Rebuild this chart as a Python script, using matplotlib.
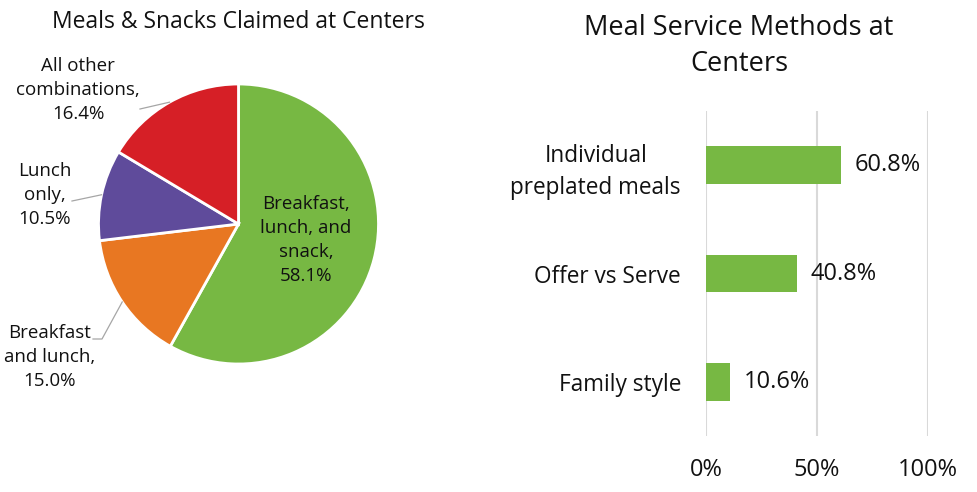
import matplotlib
matplotlib.use("Agg")
import matplotlib.pyplot as plt
import numpy as np

plt.rcParams['font.family'] = ['Open Sans', 'DejaVu Sans']

# ---- data ----
pie_labels = ["Breakfast,\nlunch, and\nsnack,", "Breakfast\nand lunch,", "Lunch\nonly,", "All other\ncombinations,"]
pie_values = [58.1, 15.0, 10.5, 16.4]
pie_colors = ["#77B843", "#E87722", "#5F4B9B", "#D61F26"]

bar_categories = ["Individual\npreplated meals", "Offer vs Serve", "Family style"]
bar_values = [60.8, 40.8, 10.6]
bar_color = "#77B843"
x_ticks = [0, 50, 100]

W, H = 978, 492
fig = plt.figure(figsize=(W / 100, H / 100), dpi=100)
TXT = "#111111"

# ---- pie ----
cx, cy, r = 238.5, 224, 140
axp = fig.add_axes([(cx - r) / W, (H - cy - r) / H, 2 * r / W, 2 * r / H])
wedges, _ = axp.pie(pie_values, colors=pie_colors, startangle=90, counterclock=False,
                    wedgeprops=dict(edgecolor="white", linewidth=2))
axp.set_xlim(-1, 1)
axp.set_ylim(-1, 1)
axp.set_aspect("equal")
axp.axis("off")

fig.text(238 / W, 1 - 22 / H, "Meals & Snacks Claimed at Centers", ha="center", va="center",
         fontsize=16.5, color=TXT)

def px2d(px, py):
    return ((px - cx) / r, (cy - py) / r)

def mid_pt(w, rr=1.0):
    a = np.deg2rad((w.theta1 + w.theta2) / 2)
    return rr * np.cos(a), rr * np.sin(a)

txt_kw = dict(ha="center", va="center", fontsize=13.5, color=TXT, linespacing=1.42)
lead_kw = dict(color="#a6a6a6", lw=0.9, clip_on=False)
# green inside label
gx, gy = px2d(306, 240)
axp.text(gx, gy, f"{pie_labels[0]}\n{pie_values[0]:.1f}%", **txt_kw)

# orange
lx, ly = px2d(50, 357)
axp.text(lx, ly, f"{pie_labels[1]}\n{pie_values[1]:.1f}%", clip_on=False, **txt_kw)
ex, ey = mid_pt(wedges[1])
p1 = px2d(93, 339)
p2 = px2d(102, 339)
axp.plot([p1[0], p2[0], ex], [p1[1], p2[1], ey], **lead_kw)

# purple
lx, ly = px2d(45, 195)
axp.text(lx, ly, f"{pie_labels[2]}\n{pie_values[2]:.1f}%", clip_on=False, **txt_kw)
ex, ey = mid_pt(wedges[2])
p1 = px2d(72, 201)
axp.plot([p1[0], ex], [p1[1], ey], **lead_kw)

# red
lx, ly = px2d(78, 90)
axp.text(lx, ly, f"{pie_labels[3]}\n{pie_values[3]:.1f}%", clip_on=False, **txt_kw)
ex, ey = mid_pt(wedges[3])
p1 = px2d(140, 109)
axp.plot([p1[0], ex], [p1[1], ey], **lead_kw)

# ---- bars ----
x0, x1, ytop, ybot = 706, 928, 111, 436
axb = fig.add_axes([x0 / W, (H - ybot) / H, (x1 - x0) / W, (ybot - ytop) / H])
ypos = np.arange(len(bar_categories))
axb.barh(ypos, bar_values, height=0.35, color=bar_color, zorder=3)
axb.set_ylim(len(bar_categories) - 0.5, -0.5)
axb.set_xlim(0, 100)
axb.set_xticks(x_ticks)
axb.set_xticklabels([f"{t}%" for t in x_ticks], fontsize=17, color=TXT)
axb.set_yticks(ypos)
axb.set_yticklabels(bar_categories, fontsize=16.3, color=TXT, linespacing=1.45)
axb.tick_params(axis="both", length=0)
axb.tick_params(axis="y", pad=18)
axb.tick_params(axis="x", pad=16)
for lab in axb.get_yticklabels():
    lab.set_ha("right")
    lab.set_multialignment("center")
axb.grid(axis="x", color="#d9d9d9", lw=1.5, zorder=0)
for s in axb.spines.values():
    s.set_visible(False)
for y, v in zip(ypos, bar_values):
    axb.annotate(f"{v:.1f}%", (v, y), xytext=(10, 0), textcoords="offset points",
                 ha="left", va="center", fontsize=17, color=TXT)

fig.text(739 / W, 1 - 46 / H, "Meal Service Methods at\nCenters", ha="center", va="center",
         fontsize=19.5, color=TXT, linespacing=1.38)

fig.savefig("out.png", dpi=100, facecolor="white")
